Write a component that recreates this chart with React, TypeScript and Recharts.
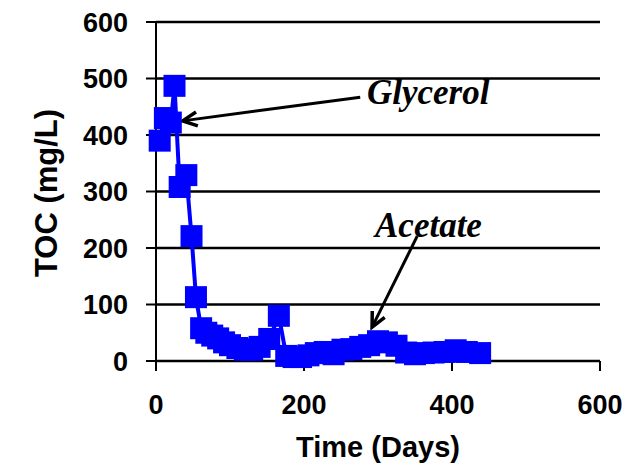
import React from 'react'
import {
  LineChart,
  Line,
  XAxis,
  YAxis,
  CartesianGrid,
  ReferenceLine,
} from 'recharts'

const days = [
  5, 12, 20, 25, 32, 41, 48, 54, 61, 68, 76, 84, 92, 100, 110, 120, 130, 140,
  153, 166, 176, 186, 196, 206, 216, 228, 240, 252, 264, 276, 288, 300, 312,
  325, 338, 350, 362, 375, 390, 405, 420, 438,
]
const toc = [
  390, 430, 422, 487, 308, 329, 221, 113, 58, 50, 45, 40, 33, 28, 23, 20, 20,
  25, 39, 80, 9, 7, 7, 10, 14, 16, 12, 20, 21, 25, 28, 35, 33, 27, 15, 12, 14,
  15, 16, 19, 16, 14,
]

const xTicks = [0, 200, 400, 600]
const yTicks = [0, 100, 200, 300, 400, 500, 600]

const data = days.map((d, i) => ({ day: d, toc: toc[i] }))

const BLUE = '#0000ff'
const AXIS_FONT = '"Liberation Sans", Arial, sans-serif'
const SERIF = '"Liberation Serif", "Times New Roman", serif'

const Arrow = (props: any) => {
  const { x1, y1, x2, y2 } = props
  const ang = Math.atan2(y2 - y1, x2 - x1)
  const len = 16
  const spread = 0.45
  const ax = x2 - len * Math.cos(ang - spread)
  const ay = y2 - len * Math.sin(ang - spread)
  const bx = x2 - len * Math.cos(ang + spread)
  const by = y2 - len * Math.sin(ang + spread)
  return (
    <g>
      <line x1={x1} y1={y1} x2={x2} y2={y2} stroke="#000" strokeWidth={3} />
      <polyline
        points={`${ax},${ay} ${x2},${y2} ${bx},${by}`}
        fill="none"
        stroke="#000"
        strokeWidth={3.5}
      />
    </g>
  )
}

const SquareDot = (p: any) => (
  <rect
    key={p.index}
    x={p.cx - 11}
    y={p.cy - 11}
    width={22}
    height={22}
    fill={BLUE}
  />
)

export default function App() {
  return (
    <div style={{ position: 'absolute', left: 0, top: 0 }}>
      <LineChart
        width={636}
        height={463}
        data={data}
        margin={{ top: 22, right: 36, left: 86, bottom: 62 }}
        style={{ background: '#fff' }}
      >
        <CartesianGrid vertical={false} stroke="#000" strokeWidth={2.5} />
        <XAxis
          dataKey="day"
          type="number"
          domain={[0, 600]}
          ticks={xTicks}
          height={40}
          axisLine={{ stroke: '#000', strokeWidth: 2 }}
          tickLine={{ stroke: '#000', strokeWidth: 2 }}
          tickSize={10}
          tickMargin={24}
          tick={{ fill: '#000', fontSize: 27, fontWeight: 700, fontFamily: AXIS_FONT }}
        />
        <YAxis
          type="number"
          domain={[0, 600]}
          ticks={yTicks}
          width={70}
          axisLine={{ stroke: '#000', strokeWidth: 2 }}
          tickLine={{ stroke: '#000', strokeWidth: 2 }}
          tickSize={10}
          tickMargin={18}
          tick={{ fill: '#000', fontSize: 27, fontWeight: 700, fontFamily: AXIS_FONT }}
        />
        <ReferenceLine
          segment={[{ x: 276, y: 467 }, { x: 36, y: 425 }]}
          shape={Arrow}
        />
        <ReferenceLine
          segment={[{ x: 353, y: 221 }, { x: 292, y: 60 }]}
          shape={Arrow}
        />
        <Line
          dataKey="toc"
          type="linear"
          stroke={BLUE}
          strokeWidth={4}
          dot={SquareDot}
          activeDot={false}
          isAnimationActive={false}
        />
        <text
          x={367}
          y={104}
          fontFamily={SERIF}
          fontStyle="italic"
          fontWeight={700}
          fontSize={35}
          fill="#000"
        >
          Glycerol
        </text>
        <text
          x={375}
          y={237}
          fontFamily={SERIF}
          fontStyle="italic"
          fontWeight={700}
          fontSize={35}
          fill="#000"
        >
          Acetate
        </text>
        <text
          x={378}
          y={457}
          textAnchor="middle"
          fontFamily={AXIS_FONT}
          fontWeight={700}
          fontSize={29}
          fill="#000"
        >
          Time (Days)
        </text>
        <text
          x={46}
          y={193}
          textAnchor="middle"
          dominantBaseline="central"
          transform="rotate(-90, 46, 193)"
          fontFamily={AXIS_FONT}
          fontWeight={700}
          fontSize={31}
          fill="#000"
        >
          TOC (mg/L)
        </text>
      </LineChart>
    </div>
  )
}
